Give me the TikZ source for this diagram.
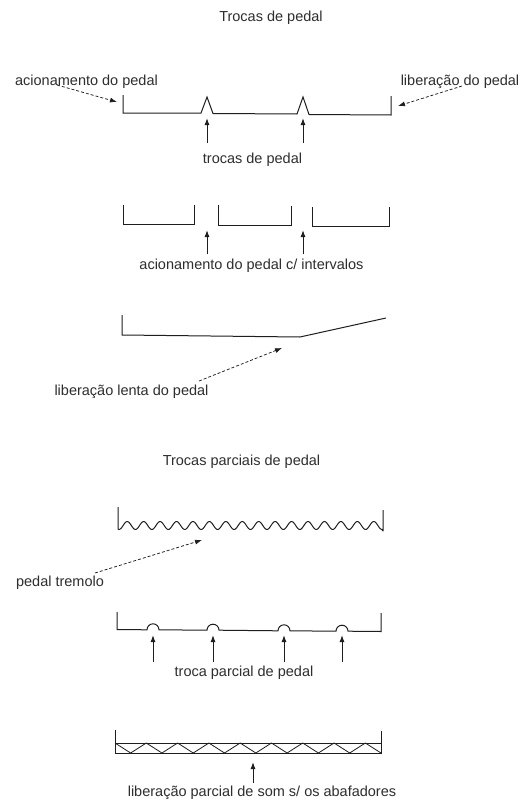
\documentclass[tikz,border=0pt]{standalone}
\usepackage{fontspec}
\setmainfont{Liberation Sans}
\usetikzlibrary{arrows.meta}
\definecolor{txt}{HTML}{2E2E2E}
\definecolor{ink}{HTML}{1E1E1E}
\begin{document}
\begin{tikzpicture}[x=1pt,y=-1pt,
  lbl/.style={inner sep=0pt,text=txt,font=\fontsize{14.5}{16}\selectfont},
  pedline/.style={draw=ink,line width=1pt,line join=miter},
  uparrow/.style={draw=ink,line width=1pt,-{Latex[length=7pt,width=5pt]}},
  dasharrow/.style={draw=ink,line width=0.75pt,densely dashed,-{Latex[length=7pt,width=5pt]}}]
\path[use as bounding box,fill=white] (0,0) rectangle (527,803);

% ---------- Title 1
\node[lbl] (t1) at (271,18) {Trocas de pedal};

% ---------- Line 1
\node[lbl] (acion) at (86.5,82) {acionamento do pedal};
\node[lbl] (liber) at (460,82) {liberação do pedal};
\draw[pedline] (123,95) -- (123,113) -- (201,113) -- (207,97) -- (213,113.5)
  -- (297,114) -- (303,97) -- (309,114.5) -- (391,115) -- (391,96);
\coordinate (a1tip) at (117,102);
\coordinate (a1tail) at (57,85);
\coordinate (a2tip) at (398,106);
\coordinate (a2tail) at (462,86);
\draw[dasharrow] (a1tail) -- (a1tip);
\draw[dasharrow] (a2tail) -- (a2tip);
\node[lbl] (troc) at (252.5,160) {trocas de pedal};
\coordinate (u1) at (207,118);
\coordinate (u1b) at (207,143);
\coordinate (u2) at (303,118);
\coordinate (u2b) at (303,143);
\draw[uparrow] (u1b) -- (u1);
\draw[uparrow] (u2b) -- (u2);

% ---------- Line 2
\draw[pedline] (123,205) -- (123,224) -- (194,224) -- (194,205);
\draw[pedline] (218,205) -- (218,225) -- (291,225) -- (291,206);
\draw[pedline] (312,207) -- (312,226) -- (389,226) -- (389,207);
\coordinate (v1) at (207,230);
\coordinate (v1b) at (207,254);
\coordinate (v2) at (303,230);
\coordinate (v2b) at (303,254);
\draw[uparrow] (v1b) -- (v1);
\draw[uparrow] (v2b) -- (v2);
\node[lbl] (interv) at (251.5,266) {acionamento do pedal c/ intervalos};

% ---------- Line 3
\draw[pedline] (122,315) -- (122,335) -- (300,337) -- (386,318);
\node[lbl] (lenta) at (131.5,392) {liberação lenta do pedal};
\coordinate (l1tail) at (199,381);
\coordinate (l1tip) at (282,348);
\draw[dasharrow] (l1tail) -- (l1tip);

% ---------- Title 2
\node[lbl] (t2) at (241.5,462) {Trocas parciais de pedal};

% ---------- Tremolo
\draw[pedline,line join=round] (118,507) -- (118,529)
  -- plot[domain=0:16,samples=257,smooth] ({119+\x*(263/16)},{525.5+4*cos(360*\x)})
  -- (383,531) -- (383,510);
\node[lbl] (trem) at (60,583) {pedal tremolo};
\coordinate (p1tail) at (95,573);
\coordinate (p1tip) at (202,540);
\draw[dasharrow] (p1tail) -- (p1tip);

% ---------- Partial changes
\draw[pedline] (117,612) -- (117,629.5) -- (147,629.8)
  arc[start angle=180,end angle=0,radius=6pt] -- (207,630.2)
  arc[start angle=180,end angle=0,radius=6pt] -- (278,630.8)
  arc[start angle=180,end angle=0,radius=6pt] -- (336,631.2)
  arc[start angle=180,end angle=0,radius=6pt] -- (381,631.5) -- (381,613);
\foreach \xx/\nm in {153/w1,213/w2,284/w3,342/w4}{
  \coordinate (\nm) at (\xx,635);
  \coordinate (\nm b) at (\xx,662);
  \draw[uparrow] (\nm b) -- (\nm);
}
\node[lbl] (parc) at (244,673) {troca parcial de pedal};

% ---------- Partial release
\draw[pedline] (115,730) -- (115,753) -- (381,753) -- (381,731);
\draw[pedline] (115,743) -- (381,743);
\draw[pedline,line width=0.8pt] (115,743)
  \foreach \i in {1,...,8}{ -- ({115+(\i-0.5)*(266/8.5)},753) -- ({115+\i*(266/8.5)},743) }
  -- (381,753);
\coordinate (r1) at (253,762);
\coordinate (r1b) at (253,783);
\draw[uparrow] (r1b) -- (r1);
\node[lbl] (abaf) at (262,793) {liberação parcial de som s/ os abafadores};
\end{tikzpicture}
\end{document}
